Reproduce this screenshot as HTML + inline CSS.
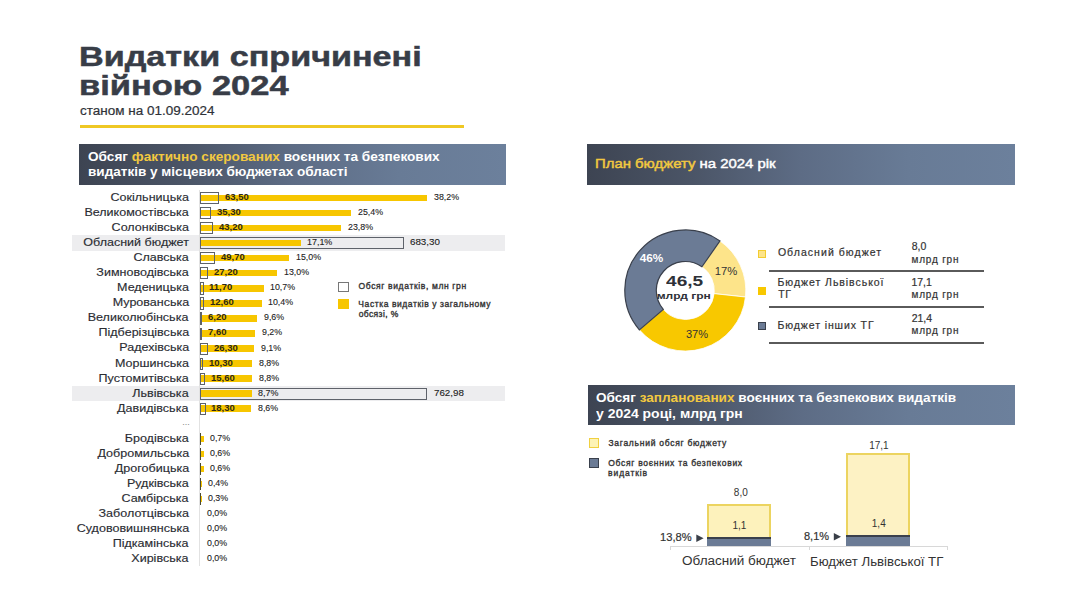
<!DOCTYPE html>
<html><head><meta charset="utf-8"><style>
html,body{margin:0;padding:0;background:#fff;}
body{width:1080px;height:608px;position:relative;overflow:hidden;font-family:"Liberation Sans",sans-serif;}
.t{position:absolute;white-space:nowrap;}
.r{position:absolute;}
</style></head><body>
<div class="t" style="left:78.72px;top:42.80px;font-size:28px;line-height:28px;font-weight:700;color:#383d47;transform:scaleX(1.2198);transform-origin:left 0;-webkit-text-stroke:0.5px #383d47;">Видатки спричинені</div>
<div class="t" style="left:78.59px;top:72.30px;font-size:28px;line-height:28px;font-weight:700;color:#383d47;transform:scaleX(1.2314);transform-origin:left 0;-webkit-text-stroke:0.5px #383d47;">війною 2024</div>
<div class="t" style="left:80.43px;top:104.72px;font-size:12.5px;line-height:12.5px;font-weight:400;color:#2f3238;transform:scaleX(1.0792);transform-origin:left 0;-webkit-text-stroke:0.2px #2f3238;">станом на 01.09.2024</div>
<div class="r" style="left:80px;top:125px;width:384px;height:3px;background:#efc824"></div>
<div class="r" style="left:79px;top:144px;width:427px;height:41px;background:linear-gradient(to right,#3d4452 0%,#4b5567 25%,#5d6c85 50%,#687b96 75%,#6c809c 100%)"></div>
<div class="t" style="left:88.44px;top:149.50px;font-size:13px;line-height:13px;font-weight:700;color:#fff;transform:scaleX(1.0472);transform-origin:left 0;">Обсяг <span style="color:#f3c940">фактично скерованих</span> воєнних та безпекових</div>
<div class="t" style="left:88.05px;top:165.00px;font-size:13px;line-height:13px;font-weight:700;color:#fff;transform:scaleX(1.0418);transform-origin:left 0;">видатків у місцевих бюджетах області</div>
<div class="t" style="left:116.78px;top:192.17px;font-size:11.5px;line-height:11.5px;font-weight:400;color:#2b2d33;transform:scaleX(1.0900);transform-origin:right 0;-webkit-text-stroke:0.15px #2b2d33;">Сокільницька</div>
<div class="r" style="left:200px;top:195.0px;width:226.5px;height:6.4px;background:#f7c600"></div>
<div class="r" style="left:200px;top:192.2px;width:18.9px;height:12.2px;border:1.2px solid #5e626a;box-sizing:border-box"></div>
<div class="t" style="left:225.07px;top:193.20px;font-size:8.5px;line-height:8.5px;font-weight:700;color:#2e2a14;transform:scaleX(1.1200);transform-origin:left 0;">63,50</div>
<div class="t" style="left:433.59px;top:193.20px;font-size:8.5px;line-height:8.5px;font-weight:400;color:#222;transform:scaleX(1.0400);transform-origin:left 0;-webkit-text-stroke:0.1px #222;">38,2%</div>
<div class="t" style="left:93.15px;top:207.20px;font-size:11.5px;line-height:11.5px;font-weight:400;color:#2b2d33;transform:scaleX(1.0900);transform-origin:right 0;-webkit-text-stroke:0.15px #2b2d33;">Великомостівська</div>
<div class="r" style="left:200px;top:210.0px;width:150.6px;height:6.4px;background:#f7c600"></div>
<div class="r" style="left:200px;top:207.2px;width:10.5px;height:12.2px;border:1.2px solid #5e626a;box-sizing:border-box"></div>
<div class="t" style="left:216.80px;top:208.23px;font-size:8.5px;line-height:8.5px;font-weight:700;color:#2e2a14;transform:scaleX(1.1200);transform-origin:left 0;">35,30</div>
<div class="t" style="left:357.58px;top:208.23px;font-size:8.5px;line-height:8.5px;font-weight:400;color:#222;transform:scaleX(1.0400);transform-origin:left 0;-webkit-text-stroke:0.1px #222;">25,4%</div>
<div class="t" style="left:117.78px;top:222.23px;font-size:11.5px;line-height:11.5px;font-weight:400;color:#2b2d33;transform:scaleX(1.0900);transform-origin:right 0;-webkit-text-stroke:0.15px #2b2d33;">Солонківська</div>
<div class="r" style="left:200px;top:225.1px;width:141.1px;height:6.4px;background:#f7c600"></div>
<div class="r" style="left:200px;top:222.3px;width:12.9px;height:12.2px;border:1.2px solid #5e626a;box-sizing:border-box"></div>
<div class="t" style="left:219.23px;top:223.26px;font-size:8.5px;line-height:8.5px;font-weight:700;color:#2e2a14;transform:scaleX(1.1200);transform-origin:left 0;">43,20</div>
<div class="t" style="left:348.09px;top:223.26px;font-size:8.5px;line-height:8.5px;font-weight:400;color:#222;transform:scaleX(1.0400);transform-origin:left 0;-webkit-text-stroke:0.1px #222;">23,8%</div>
<div class="r" style="left:72px;top:235.3px;width:433px;height:15.5px;background:#ededef"></div>
<div class="t" style="left:92.11px;top:237.26px;font-size:11.5px;line-height:11.5px;font-weight:400;color:#2b2d33;transform:scaleX(1.0900);transform-origin:right 0;-webkit-text-stroke:0.15px #2b2d33;">Обласний бюджет</div>
<div class="r" style="left:200px;top:240.1px;width:101.4px;height:6.4px;background:#f7c600"></div>
<div class="r" style="left:200px;top:237.3px;width:203.6px;height:12.2px;border:1.2px solid #5e626a;box-sizing:border-box"></div>
<div class="t" style="left:307.22px;top:238.29px;font-size:8.5px;line-height:8.5px;font-weight:400;color:#222;transform:scaleX(1.0500);transform-origin:left 0;-webkit-text-stroke:0.1px #222;">17,1%</div>
<div class="t" style="left:410.33px;top:238.29px;font-size:8.5px;line-height:8.5px;font-weight:400;color:#222;transform:scaleX(1.1500);transform-origin:left 0;-webkit-text-stroke:0.1px #222;">683,30</div>
<div class="t" style="left:137.99px;top:252.29px;font-size:11.5px;line-height:11.5px;font-weight:400;color:#2b2d33;transform:scaleX(1.0900);transform-origin:right 0;-webkit-text-stroke:0.15px #2b2d33;">Славська</div>
<div class="r" style="left:200px;top:255.1px;width:88.9px;height:6.4px;background:#f7c600"></div>
<div class="r" style="left:200px;top:252.3px;width:14.8px;height:12.2px;border:1.2px solid #5e626a;box-sizing:border-box"></div>
<div class="t" style="left:221.17px;top:253.32px;font-size:8.5px;line-height:8.5px;font-weight:700;color:#2e2a14;transform:scaleX(1.1200);transform-origin:left 0;">49,70</div>
<div class="t" style="left:295.68px;top:253.32px;font-size:8.5px;line-height:8.5px;font-weight:400;color:#222;transform:scaleX(1.0400);transform-origin:left 0;-webkit-text-stroke:0.1px #222;">15,0%</div>
<div class="t" style="left:103.99px;top:267.32px;font-size:11.5px;line-height:11.5px;font-weight:400;color:#2b2d33;transform:scaleX(1.0900);transform-origin:right 0;-webkit-text-stroke:0.15px #2b2d33;">Зимноводівська</div>
<div class="r" style="left:200px;top:270.1px;width:77.1px;height:6.4px;background:#f7c600"></div>
<div class="r" style="left:200px;top:267.3px;width:8.1px;height:12.2px;border:1.2px solid #5e626a;box-sizing:border-box"></div>
<div class="t" style="left:214.28px;top:268.35px;font-size:8.5px;line-height:8.5px;font-weight:700;color:#2e2a14;transform:scaleX(1.1200);transform-origin:left 0;">27,20</div>
<div class="t" style="left:283.82px;top:268.35px;font-size:8.5px;line-height:8.5px;font-weight:400;color:#222;transform:scaleX(1.0400);transform-origin:left 0;-webkit-text-stroke:0.1px #222;">13,0%</div>
<div class="t" style="left:122.81px;top:282.35px;font-size:11.5px;line-height:11.5px;font-weight:400;color:#2b2d33;transform:scaleX(1.0900);transform-origin:right 0;-webkit-text-stroke:0.15px #2b2d33;">Меденицька</div>
<div class="r" style="left:200px;top:285.2px;width:63.5px;height:6.4px;background:#f7c600"></div>
<div class="r" style="left:200px;top:282.4px;width:3.5px;height:12.2px;border:1.2px solid #5e626a;box-sizing:border-box"></div>
<div class="t" style="left:209.39px;top:283.38px;font-size:8.5px;line-height:8.5px;font-weight:700;color:#2e2a14;transform:scaleX(1.1200);transform-origin:left 0;">11,70</div>
<div class="t" style="left:270.18px;top:283.38px;font-size:8.5px;line-height:8.5px;font-weight:400;color:#222;transform:scaleX(1.0400);transform-origin:left 0;-webkit-text-stroke:0.1px #222;">10,7%</div>
<div class="t" style="left:118.53px;top:297.38px;font-size:11.5px;line-height:11.5px;font-weight:400;color:#2b2d33;transform:scaleX(1.0900);transform-origin:right 0;-webkit-text-stroke:0.15px #2b2d33;">Мурованська</div>
<div class="r" style="left:200px;top:300.2px;width:61.7px;height:6.4px;background:#f7c600"></div>
<div class="r" style="left:200px;top:297.4px;width:3.8px;height:12.2px;border:1.2px solid #5e626a;box-sizing:border-box"></div>
<div class="t" style="left:209.66px;top:298.41px;font-size:8.5px;line-height:8.5px;font-weight:700;color:#2e2a14;transform:scaleX(1.1200);transform-origin:left 0;">12,60</div>
<div class="t" style="left:268.40px;top:298.41px;font-size:8.5px;line-height:8.5px;font-weight:400;color:#222;transform:scaleX(1.0400);transform-origin:left 0;-webkit-text-stroke:0.1px #222;">10,4%</div>
<div class="t" style="left:96.43px;top:312.41px;font-size:11.5px;line-height:11.5px;font-weight:400;color:#2b2d33;transform:scaleX(1.0900);transform-origin:right 0;-webkit-text-stroke:0.15px #2b2d33;">Великолюбінська</div>
<div class="r" style="left:200px;top:315.2px;width:56.9px;height:6.4px;background:#f7c600"></div>
<div class="r" style="left:200px;top:312.4px;width:1.8px;height:12.2px;border:1.2px solid #5e626a;box-sizing:border-box"></div>
<div class="t" style="left:208.00px;top:313.44px;font-size:8.5px;line-height:8.5px;font-weight:700;color:#2e2a14;transform:scaleX(1.1200);transform-origin:left 0;">6,20</div>
<div class="t" style="left:263.91px;top:313.44px;font-size:8.5px;line-height:8.5px;font-weight:400;color:#222;transform:scaleX(1.0400);transform-origin:left 0;-webkit-text-stroke:0.1px #222;">9,6%</div>
<div class="t" style="left:105.65px;top:327.44px;font-size:11.5px;line-height:11.5px;font-weight:400;color:#2b2d33;transform:scaleX(1.0900);transform-origin:right 0;-webkit-text-stroke:0.15px #2b2d33;">Підберізцівська</div>
<div class="r" style="left:200px;top:330.3px;width:54.6px;height:6.4px;background:#f7c600"></div>
<div class="r" style="left:200px;top:327.5px;width:2.3px;height:12.2px;border:1.2px solid #5e626a;box-sizing:border-box"></div>
<div class="t" style="left:208.36px;top:328.47px;font-size:8.5px;line-height:8.5px;font-weight:700;color:#2e2a14;transform:scaleX(1.1200);transform-origin:left 0;">7,60</div>
<div class="t" style="left:261.54px;top:328.47px;font-size:8.5px;line-height:8.5px;font-weight:400;color:#222;transform:scaleX(1.0400);transform-origin:left 0;-webkit-text-stroke:0.1px #222;">9,2%</div>
<div class="t" style="left:124.55px;top:342.47px;font-size:11.5px;line-height:11.5px;font-weight:400;color:#2b2d33;transform:scaleX(1.0900);transform-origin:right 0;-webkit-text-stroke:0.15px #2b2d33;">Радехівська</div>
<div class="r" style="left:200px;top:345.3px;width:54.0px;height:6.4px;background:#f7c600"></div>
<div class="r" style="left:200px;top:342.5px;width:7.8px;height:12.2px;border:1.2px solid #5e626a;box-sizing:border-box"></div>
<div class="t" style="left:214.01px;top:343.50px;font-size:8.5px;line-height:8.5px;font-weight:700;color:#2e2a14;transform:scaleX(1.1200);transform-origin:left 0;">26,30</div>
<div class="t" style="left:260.95px;top:343.50px;font-size:8.5px;line-height:8.5px;font-weight:400;color:#222;transform:scaleX(1.0400);transform-origin:left 0;-webkit-text-stroke:0.1px #222;">9,1%</div>
<div class="t" style="left:120.88px;top:357.50px;font-size:11.5px;line-height:11.5px;font-weight:400;color:#2b2d33;transform:scaleX(1.0900);transform-origin:right 0;-webkit-text-stroke:0.15px #2b2d33;">Моршинська</div>
<div class="r" style="left:200px;top:360.3px;width:52.2px;height:6.4px;background:#f7c600"></div>
<div class="r" style="left:200px;top:357.5px;width:3.1px;height:12.2px;border:1.2px solid #5e626a;box-sizing:border-box"></div>
<div class="t" style="left:208.97px;top:358.53px;font-size:8.5px;line-height:8.5px;font-weight:700;color:#2e2a14;transform:scaleX(1.1200);transform-origin:left 0;">10,30</div>
<div class="t" style="left:259.20px;top:358.53px;font-size:8.5px;line-height:8.5px;font-weight:400;color:#222;transform:scaleX(1.0400);transform-origin:left 0;-webkit-text-stroke:0.1px #222;">8,8%</div>
<div class="t" style="left:106.08px;top:372.53px;font-size:11.5px;line-height:11.5px;font-weight:400;color:#2b2d33;transform:scaleX(1.0900);transform-origin:right 0;-webkit-text-stroke:0.15px #2b2d33;">Пустомитівська</div>
<div class="r" style="left:200px;top:375.4px;width:52.2px;height:6.4px;background:#f7c600"></div>
<div class="r" style="left:200px;top:372.6px;width:4.6px;height:12.2px;border:1.2px solid #5e626a;box-sizing:border-box"></div>
<div class="t" style="left:210.55px;top:373.56px;font-size:8.5px;line-height:8.5px;font-weight:700;color:#2e2a14;transform:scaleX(1.1200);transform-origin:left 0;">15,60</div>
<div class="t" style="left:259.20px;top:373.56px;font-size:8.5px;line-height:8.5px;font-weight:400;color:#222;transform:scaleX(1.0400);transform-origin:left 0;-webkit-text-stroke:0.1px #222;">8,8%</div>
<div class="r" style="left:72px;top:385.6px;width:433px;height:15.5px;background:#ededef"></div>
<div class="t" style="left:137.20px;top:387.56px;font-size:11.5px;line-height:11.5px;font-weight:400;color:#2b2d33;transform:scaleX(1.0900);transform-origin:right 0;-webkit-text-stroke:0.15px #2b2d33;">Львівська</div>
<div class="r" style="left:200px;top:390.4px;width:51.6px;height:6.4px;background:#f7c600"></div>
<div class="r" style="left:200px;top:387.6px;width:227.4px;height:12.2px;border:1.2px solid #5e626a;box-sizing:border-box"></div>
<div class="t" style="left:257.70px;top:388.59px;font-size:8.5px;line-height:8.5px;font-weight:400;color:#222;transform:scaleX(1.0500);transform-origin:left 0;-webkit-text-stroke:0.1px #222;">8,7%</div>
<div class="t" style="left:434.07px;top:388.59px;font-size:8.5px;line-height:8.5px;font-weight:400;color:#222;transform:scaleX(1.1500);transform-origin:left 0;-webkit-text-stroke:0.1px #222;">762,98</div>
<div class="t" style="left:123.42px;top:402.59px;font-size:11.5px;line-height:11.5px;font-weight:400;color:#2b2d33;transform:scaleX(1.0900);transform-origin:right 0;-webkit-text-stroke:0.15px #2b2d33;">Давидівська</div>
<div class="r" style="left:200px;top:405.4px;width:51.0px;height:6.4px;background:#f7c600"></div>
<div class="r" style="left:200px;top:402.6px;width:5.5px;height:12.2px;border:1.2px solid #5e626a;box-sizing:border-box"></div>
<div class="t" style="left:211.35px;top:403.62px;font-size:8.5px;line-height:8.5px;font-weight:700;color:#2e2a14;transform:scaleX(1.1200);transform-origin:left 0;">18,30</div>
<div class="t" style="left:258.01px;top:403.62px;font-size:8.5px;line-height:8.5px;font-weight:400;color:#222;transform:scaleX(1.0400);transform-origin:left 0;-webkit-text-stroke:0.1px #222;">8,6%</div>
<div class="t" style="left:182.32px;top:417.53px;font-size:9px;line-height:9px;font-weight:400;color:#888;">...</div>
<div class="t" style="left:130.05px;top:432.65px;font-size:11.5px;line-height:11.5px;font-weight:400;color:#2b2d33;transform:scaleX(1.0900);transform-origin:right 0;-webkit-text-stroke:0.15px #2b2d33;">Бродівська</div>
<div class="r" style="left:200px;top:435.5px;width:4.2px;height:6.4px;background:#f7c600"></div>
<div class="r" style="left:200px;top:432.5px;width:1px;height:12.6px;background:#4a4a30"></div>
<div class="t" style="left:210.45px;top:433.68px;font-size:8.5px;line-height:8.5px;font-weight:400;color:#222;transform:scaleX(1.0400);transform-origin:left 0;-webkit-text-stroke:0.1px #222;">0,7%</div>
<div class="t" style="left:104.65px;top:447.68px;font-size:11.5px;line-height:11.5px;font-weight:400;color:#2b2d33;transform:scaleX(1.0900);transform-origin:right 0;-webkit-text-stroke:0.15px #2b2d33;">Добромильська</div>
<div class="r" style="left:200px;top:450.5px;width:3.6px;height:6.4px;background:#f7c600"></div>
<div class="r" style="left:200px;top:447.5px;width:1px;height:12.6px;background:#4a4a30"></div>
<div class="t" style="left:210.45px;top:448.71px;font-size:8.5px;line-height:8.5px;font-weight:400;color:#222;transform:scaleX(1.0400);transform-origin:left 0;-webkit-text-stroke:0.1px #222;">0,6%</div>
<div class="t" style="left:120.61px;top:462.71px;font-size:11.5px;line-height:11.5px;font-weight:400;color:#2b2d33;transform:scaleX(1.0900);transform-origin:right 0;-webkit-text-stroke:0.15px #2b2d33;">Дрогобицька</div>
<div class="r" style="left:200px;top:465.5px;width:3.6px;height:6.4px;background:#f7c600"></div>
<div class="r" style="left:200px;top:462.5px;width:1px;height:12.6px;background:#4a4a30"></div>
<div class="t" style="left:210.45px;top:463.74px;font-size:8.5px;line-height:8.5px;font-weight:400;color:#222;transform:scaleX(1.0400);transform-origin:left 0;-webkit-text-stroke:0.1px #222;">0,6%</div>
<div class="t" style="left:132.06px;top:477.74px;font-size:11.5px;line-height:11.5px;font-weight:400;color:#2b2d33;transform:scaleX(1.0900);transform-origin:right 0;-webkit-text-stroke:0.15px #2b2d33;">Рудківська</div>
<div class="r" style="left:200px;top:480.6px;width:2.4px;height:6.4px;background:#f7c600"></div>
<div class="r" style="left:200px;top:477.6px;width:1px;height:12.6px;background:#4a4a30"></div>
<div class="t" style="left:208.45px;top:478.77px;font-size:8.5px;line-height:8.5px;font-weight:400;color:#222;transform:scaleX(1.0400);transform-origin:left 0;-webkit-text-stroke:0.1px #222;">0,4%</div>
<div class="t" style="left:127.23px;top:492.77px;font-size:11.5px;line-height:11.5px;font-weight:400;color:#2b2d33;transform:scaleX(1.0900);transform-origin:right 0;-webkit-text-stroke:0.15px #2b2d33;">Самбірська</div>
<div class="r" style="left:200px;top:495.6px;width:1.8px;height:6.4px;background:#f7c600"></div>
<div class="r" style="left:200px;top:492.6px;width:1px;height:12.6px;background:#4a4a30"></div>
<div class="t" style="left:208.45px;top:493.80px;font-size:8.5px;line-height:8.5px;font-weight:400;color:#222;transform:scaleX(1.0400);transform-origin:left 0;-webkit-text-stroke:0.1px #222;">0,3%</div>
<div class="t" style="left:105.93px;top:507.80px;font-size:11.5px;line-height:11.5px;font-weight:400;color:#2b2d33;transform:scaleX(1.0900);transform-origin:right 0;-webkit-text-stroke:0.15px #2b2d33;">Заболотцівська</div>
<div class="t" style="left:206.85px;top:508.83px;font-size:8.5px;line-height:8.5px;font-weight:400;color:#222;transform:scaleX(1.0400);transform-origin:left 0;-webkit-text-stroke:0.1px #222;">0,0%</div>
<div class="t" style="left:85.53px;top:522.83px;font-size:11.5px;line-height:11.5px;font-weight:400;color:#2b2d33;transform:scaleX(1.0900);transform-origin:right 0;-webkit-text-stroke:0.15px #2b2d33;">Судововишнянська</div>
<div class="t" style="left:206.85px;top:523.86px;font-size:8.5px;line-height:8.5px;font-weight:400;color:#222;transform:scaleX(1.0400);transform-origin:left 0;-webkit-text-stroke:0.1px #222;">0,0%</div>
<div class="t" style="left:119.36px;top:537.86px;font-size:11.5px;line-height:11.5px;font-weight:400;color:#2b2d33;transform:scaleX(1.0900);transform-origin:right 0;-webkit-text-stroke:0.15px #2b2d33;">Підкамінська</div>
<div class="t" style="left:206.85px;top:538.89px;font-size:8.5px;line-height:8.5px;font-weight:400;color:#222;transform:scaleX(1.0400);transform-origin:left 0;-webkit-text-stroke:0.1px #222;">0,0%</div>
<div class="t" style="left:136.35px;top:552.89px;font-size:11.5px;line-height:11.5px;font-weight:400;color:#2b2d33;transform:scaleX(1.0900);transform-origin:right 0;-webkit-text-stroke:0.15px #2b2d33;">Хирівська</div>
<div class="t" style="left:206.85px;top:553.92px;font-size:8.5px;line-height:8.5px;font-weight:400;color:#222;transform:scaleX(1.0400);transform-origin:left 0;-webkit-text-stroke:0.1px #222;">0,0%</div>
<div class="r" style="left:199px;top:190px;width:1px;height:376px;background:#e2e2e2"></div>
<div class="r" style="left:338px;top:282px;width:11px;height:10px;border:1px solid #777;box-sizing:border-box;background:#fff"></div>
<div class="r" style="left:338px;top:299px;width:11px;height:10px;background:#f7c600"></div>
<div class="t" style="left:358.60px;top:282.00px;font-size:8.5px;line-height:8.5px;font-weight:400;color:#333;letter-spacing:0.632px;-webkit-text-stroke:0.35px #333;">Обсяг видатків, млн грн</div>
<div class="t" style="left:358.34px;top:299.50px;font-size:8.5px;line-height:8.5px;font-weight:400;color:#333;letter-spacing:0.579px;-webkit-text-stroke:0.35px #333;">Частка видатків у загальному</div>
<div class="t" style="left:358.64px;top:309.50px;font-size:8.5px;line-height:8.5px;font-weight:400;color:#333;letter-spacing:0.405px;-webkit-text-stroke:0.35px #333;">обсязі, %</div>
<div class="r" style="left:587px;top:144px;width:428px;height:41px;background:linear-gradient(to right,#3d4452 0%,#4b5567 25%,#5d6c85 50%,#687b96 75%,#6c809c 100%)"></div>
<div class="t" style="left:594.79px;top:157.17px;font-size:13.5px;line-height:13.5px;font-weight:400;color:#fff;transform:scaleX(1.1043);transform-origin:left 0;-webkit-text-stroke:0.45px #fff;"><span style="color:#f3c940;-webkit-text-stroke:0.45px #f3c940">План бюджету</span> на 2024 рік</div>
<svg class="r" style="left:0;top:0" width="1080" height="608" viewBox="0 0 1080 608">
<path d="M720.00,240.94 A60.5,60.5 0 0 1 745.45,297.03 L714.13,293.63 A29,29 0 0 0 701.93,266.74 Z" fill="#fde48a" stroke="#fff" stroke-width="0.8"/>
<path d="M745.45,297.03 A60.5,60.5 0 0 1 639.36,329.87 L663.28,309.37 A29,29 0 0 0 714.13,293.63 Z" fill="#f8c800" stroke="#fff" stroke-width="0.8"/>
<path d="M639.36,329.87 A60.5,60.5 0 0 1 720.00,240.94 L701.93,266.74 A29,29 0 0 0 663.28,309.37 Z" fill="#6b7b95" stroke="#3a404c" stroke-width="1.2"/>
</svg>
<div class="t" style="left:639.66px;top:253.07px;font-size:11.5px;line-height:11.5px;font-weight:700;color:#fff;transform:scaleX(1.0204);transform-origin:center 0;">46%</div>
<div class="t" style="left:714.76px;top:266.19px;font-size:11px;line-height:11px;font-weight:400;color:#333;transform:scaleX(1.0247);transform-origin:center 0;">17%</div>
<div class="t" style="left:686.28px;top:328.69px;font-size:11px;line-height:11px;font-weight:400;color:#333;transform:scaleX(1.0045);transform-origin:center 0;">37%</div>
<div class="t" style="left:670.02px;top:273.30px;font-size:15px;line-height:15px;font-weight:700;color:#2e3138;transform:scaleX(1.2714);transform-origin:center 0;">46,5</div>
<div class="t" style="left:663.28px;top:292.21px;font-size:9.2px;line-height:9.2px;font-weight:700;color:#2e3138;transform:scaleX(1.3073);transform-origin:center 0;">млрд грн</div>
<div class="r" style="left:758px;top:250px;width:8px;height:8px;background:#fde48a;border:1px solid #f3cc30;box-sizing:border-box"></div>
<div class="r" style="left:758px;top:287px;width:8px;height:8px;background:#f8c800"></div>
<div class="r" style="left:758px;top:322px;width:8px;height:8px;background:#6b7b95;border:1px solid #3a404c;box-sizing:border-box"></div>
<div class="t" style="left:777.90px;top:247.11px;font-size:10.5px;line-height:10.5px;font-weight:400;color:#333;letter-spacing:1.057px;-webkit-text-stroke:0.2px #333;">Обласний бюджет</div>
<div class="t" style="left:777.54px;top:276.71px;font-size:10.5px;line-height:10.5px;font-weight:400;color:#333;letter-spacing:0.946px;-webkit-text-stroke:0.2px #333;">Бюджет Львівської</div>
<div class="t" style="left:778.16px;top:288.91px;font-size:10.5px;line-height:10.5px;font-weight:400;color:#333;letter-spacing:0.6px;-webkit-text-stroke:0.2px #333;">ТГ</div>
<div class="t" style="left:777.54px;top:320.01px;font-size:10.5px;line-height:10.5px;font-weight:400;color:#333;letter-spacing:0.89px;-webkit-text-stroke:0.2px #333;">Бюджет інших ТГ</div>
<div class="t" style="left:911.74px;top:241.11px;font-size:10.5px;line-height:10.5px;font-weight:400;color:#333;-webkit-text-stroke:0.2px #333;">8,0</div>
<div class="t" style="left:911.51px;top:254.53px;font-size:10px;line-height:10px;font-weight:400;color:#333;letter-spacing:0.8px;-webkit-text-stroke:0.2px #333;">млрд грн</div>
<div class="t" style="left:911.40px;top:276.71px;font-size:10.5px;line-height:10.5px;font-weight:400;color:#333;-webkit-text-stroke:0.2px #333;">17,1</div>
<div class="t" style="left:911.51px;top:290.13px;font-size:10px;line-height:10px;font-weight:400;color:#333;letter-spacing:0.8px;-webkit-text-stroke:0.2px #333;">млрд грн</div>
<div class="t" style="left:911.67px;top:312.71px;font-size:10.5px;line-height:10.5px;font-weight:400;color:#333;-webkit-text-stroke:0.2px #333;">21,4</div>
<div class="t" style="left:911.51px;top:326.13px;font-size:10px;line-height:10px;font-weight:400;color:#333;letter-spacing:0.8px;-webkit-text-stroke:0.2px #333;">млрд грн</div>
<div class="r" style="left:769px;top:270px;width:215px;height:2px;background:#5a5a5a"></div>
<div class="r" style="left:769px;top:306px;width:215px;height:2px;background:#5a5a5a"></div>
<div class="r" style="left:769px;top:342px;width:215px;height:2px;background:#5a5a5a"></div>
<div class="r" style="left:588px;top:385px;width:427px;height:40px;background:linear-gradient(to right,#3d4452 0%,#4b5567 25%,#5d6c85 50%,#687b96 75%,#6c809c 100%)"></div>
<div class="t" style="left:595.74px;top:391.00px;font-size:13px;line-height:13px;font-weight:700;color:#fff;transform:scaleX(1.0445);transform-origin:left 0;">Обсяг <span style="color:#f3c940">запланованих</span> воєнних та безпекових видатків</div>
<div class="t" style="left:596.19px;top:406.80px;font-size:13px;line-height:13px;font-weight:700;color:#fff;transform:scaleX(1.0742);transform-origin:left 0;">у 2024 році, млрд грн</div>
<div class="r" style="left:589px;top:438px;width:10px;height:10px;background:#fdf3b5;border:1px solid #f0d040;box-sizing:border-box"></div>
<div class="r" style="left:589px;top:458px;width:10px;height:10px;background:#6b7b95;border:1px solid #3a404c;box-sizing:border-box"></div>
<div class="t" style="left:608.42px;top:438.50px;font-size:8.5px;line-height:8.5px;font-weight:400;color:#333;letter-spacing:0.739px;-webkit-text-stroke:0.35px #333;">Загальний обсяг бюджету</div>
<div class="t" style="left:608.30px;top:458.90px;font-size:8.5px;line-height:8.5px;font-weight:400;color:#333;letter-spacing:0.707px;-webkit-text-stroke:0.35px #333;">Обсяг воєнних та безпекових</div>
<div class="t" style="left:608.11px;top:469.40px;font-size:8.5px;line-height:8.5px;font-weight:400;color:#333;letter-spacing:0.883px;-webkit-text-stroke:0.35px #333;">видатків</div>
<div class="r" style="left:707px;top:504px;width:64px;height:42px;background:#fdf2bc;border:2px solid #ecd460;border-bottom:none;box-sizing:border-box"></div>
<div class="r" style="left:707px;top:537px;width:64px;height:9px;background:#6b7b95;border-top:2px solid #3a404c;box-sizing:border-box"></div>
<div class="r" style="left:845.6px;top:453.4px;width:64.2px;height:92.6px;background:#fdf2c4;border:2px solid #ecd460;border-bottom:none;box-sizing:border-box"></div>
<div class="r" style="left:845.6px;top:535px;width:64.2px;height:11px;background:#6b7b95;border-top:2px solid #3a404c;box-sizing:border-box"></div>
<div class="t" style="left:733.83px;top:487.93px;font-size:10px;line-height:10px;font-weight:400;color:#333;">8,0</div>
<div class="t" style="left:732.51px;top:521.24px;font-size:10px;line-height:10px;font-weight:400;color:#333;">1,1</div>
<div class="t" style="left:869.13px;top:441.23px;font-size:10px;line-height:10px;font-weight:400;color:#333;">17,1</div>
<div class="t" style="left:871.81px;top:519.04px;font-size:10px;line-height:10px;font-weight:400;color:#333;">1,4</div>
<div class="t" style="left:659.85px;top:531.97px;font-size:11.5px;line-height:11.5px;font-weight:400;color:#333;transform:scaleX(0.9706);transform-origin:left 0;-webkit-text-stroke:0.2px #333;">13,8%</div>
<div class="t" style="left:804.42px;top:530.77px;font-size:11.5px;line-height:11.5px;font-weight:400;color:#333;transform:scaleX(0.9564);transform-origin:left 0;-webkit-text-stroke:0.2px #333;">8,1%</div>
<svg class="r" style="left:0;top:0" width="1080" height="608"><path d="M696.3,534.6 L703.6,538.3 L696.3,542 Z" fill="#3a3f48"/><path d="M833.8,533 L841,536.7 L833.8,540.4 Z" fill="#3a3f48"/></svg>
<div class="r" style="left:670px;top:546px;width:278px;height:1px;background:#d8d8d8"></div>
<div class="r" style="left:670px;top:546px;width:1px;height:4px;background:#d8d8d8"></div>
<div class="r" style="left:808.5px;top:546px;width:1px;height:4px;background:#d8d8d8"></div>
<div class="r" style="left:947px;top:546px;width:1px;height:4px;background:#d8d8d8"></div>
<div class="t" style="left:681.96px;top:555.34px;font-size:12px;line-height:12px;font-weight:400;color:#333;transform:scaleX(1.1261);transform-origin:left 0;">Обласний бюджет</div>
<div class="t" style="left:810.01px;top:555.54px;font-size:12px;line-height:12px;font-weight:400;color:#333;transform:scaleX(1.1022);transform-origin:left 0;">Бюджет Львівської ТГ</div>
</body></html>
